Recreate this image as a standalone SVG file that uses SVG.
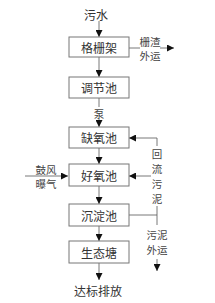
<svg xmlns="http://www.w3.org/2000/svg" width="215" height="303" viewBox="0 0 215 303">
<defs>
<style>
.box{fill:#fff;stroke:#777;stroke-width:1}
.t{font-family:"Noto Sans CJK SC","Liberation Serif",serif;font-size:12px;fill:#333;text-anchor:middle;dominant-baseline:central}
.s{font-family:"Noto Sans CJK SC","Liberation Serif",serif;font-size:10.5px;fill:#444;text-anchor:middle;dominant-baseline:central}
.ln{stroke:#555;stroke-width:0.8;fill:none}
</style>
<marker id="ah" viewBox="0 0 10 10" refX="10" refY="5" markerWidth="7" markerHeight="7" markerUnits="userSpaceOnUse" orient="auto"><path d="M0,0 L10,5 L0,10 z" fill="#111"/></marker>
</defs>
<rect width="215" height="303" fill="#fff"/>
<g id="connectors">
<line class="ln" x1="99" y1="21" x2="99" y2="37" marker-end="url(#ah)"/>
<line class="ln" x1="99" y1="57" x2="99" y2="77" marker-end="url(#ah)"/>
<line class="ln" x1="99" y1="98" x2="99" y2="107"/>
<line class="ln" x1="99" y1="119" x2="99" y2="127" marker-end="url(#ah)"/>
<line class="ln" x1="99" y1="148" x2="99" y2="164" marker-end="url(#ah)"/>
<line class="ln" x1="99" y1="186" x2="99" y2="204" marker-end="url(#ah)"/>
<line class="ln" x1="99" y1="226" x2="99" y2="241" marker-end="url(#ah)"/>
<line class="ln" x1="99" y1="263" x2="99" y2="280" marker-end="url(#ah)"/>
<line class="ln" x1="129" y1="48" x2="140" y2="48"/>
<line class="ln" x1="160" y1="48" x2="174" y2="48" marker-end="url(#ah)"/>
<polyline class="ln" points="157,146 157,138 129,138" marker-end="url(#ah)"/>
<line class="ln" x1="151" y1="176" x2="129" y2="176" marker-end="url(#ah)"/>
<line class="ln" x1="25" y1="176" x2="68" y2="176" marker-end="url(#ah)"/>
<polyline class="ln" points="129,215 157,215 157,206"/>
<line class="ln" x1="157" y1="215" x2="157" y2="225"/>
<line class="ln" x1="157" y1="259" x2="157" y2="271" marker-end="url(#ah)"/>
</g>
<text class="t" x="96" y="14">污水</text>
<g id="n1"><rect class="box" x="69" y="37" width="60" height="20"/><text class="t" x="99" y="47">格栅架</text></g>
<g id="n2"><rect class="box" x="69" y="77" width="60" height="21"/><text class="t" x="99" y="87.5">调节池</text></g>
<text class="s" x="99" y="113">泵</text>
<g id="n3"><rect class="box" x="69" y="127" width="60" height="21"/><text class="t" x="99" y="137.5">缺氧池</text></g>
<g id="n4"><rect class="box" x="69" y="164" width="60" height="22"/><text class="t" x="99" y="175">好氧池</text></g>
<g id="n5"><rect class="box" x="69" y="204" width="60" height="22"/><text class="t" x="99" y="215">沉淀池</text></g>
<g id="n6"><rect class="box" x="69" y="241" width="60" height="22"/><text class="t" x="99" y="252">生态塘</text></g>
<text class="t" x="98" y="290">达标排放</text>
<text class="s" x="150" y="41">栅渣</text>
<text class="s" x="150" y="55">外运</text>
<text class="s" x="46" y="169">鼓风</text>
<text class="s" x="46" y="183">曝气</text>
<text class="s" x="157" y="153">回</text>
<text class="s" x="157" y="168">流</text>
<text class="s" x="157" y="183">污</text>
<text class="s" x="157" y="198">泥</text>
<text class="s" x="157" y="234">污泥</text>
<text class="s" x="157" y="249">外运</text>
</svg>
